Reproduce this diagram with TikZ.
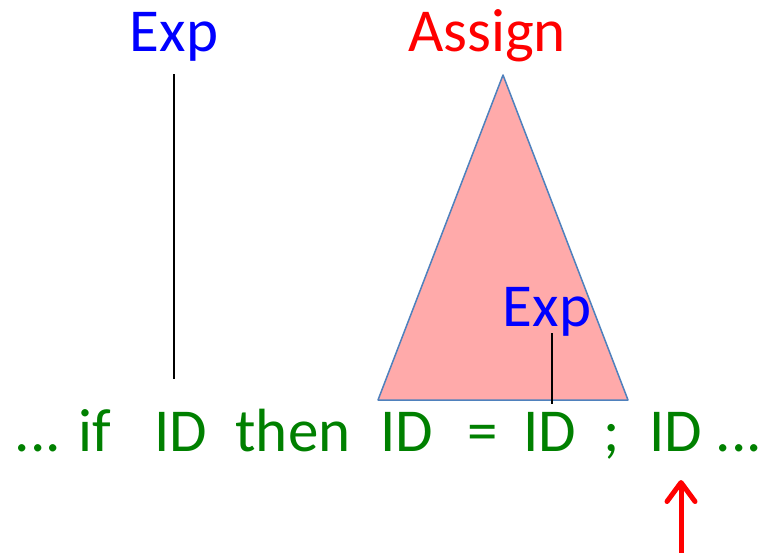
\documentclass[tikz,border=0pt]{standalone}
\usepackage{fontspec}
\setmainfont{Carlito}
\usetikzlibrary{arrows.meta,positioning,calc}
\definecolor{tokgreen}{RGB}{0,128,0}
\definecolor{treefill}{RGB}{255,170,170}
\definecolor{treeline}{RGB}{79,129,189}
\tikzset{
    token/.style={text=tokgreen,anchor=base,inner sep=0pt},
    nonterm/.style={text=blue,anchor=base,inner sep=0pt},
    rootterm/.style={text=red,anchor=base,inner sep=0pt},
    subtree/.style={fill=treefill,draw=treeline,line width=1.5pt,line join=round},
    edge/.style={black,line width=2.5pt},
    cursor/.style={red,line width=5pt,-{Straight Barb[length=19pt,width=28pt,line width=5pt,round]}},
}
\tikzstyle{every node}=[font=\fontsize{61}{64}\selectfont]
\begin{document}
\begin{tikzpicture}[x=1pt,y=-1pt]
        \useasboundingbox (0,0) rectangle (773,553);
        % the subtree that was reduced
        \coordinate (apex) at (503,75);
        \coordinate (bl) at (378,400);
        \coordinate (br) at (628,400);
        \draw[subtree] (apex) -- (br) -- (bl) -- cycle;
        % input tokens
        \node[token] (dots1) at (38,451) {...};
        \node[token] (if) at (95,451) {if};
        \node[token] (id1) at (181,451) {ID};
        \node[token] (then) at (293,451) {then};
        \node[token] (id2) at (407,451) {ID};
        \node[token] (eq) at (483,451) {=};
        \node[token] (id3) at (550,451) {ID};
        \node[token] (semi) at (612,451) {;};
        \node[token] (id4) at (676,451) {ID};
        \node[token] (dots2) at (739,451) {...};
        % nonterminals
        \node[nonterm] (exp1) at (174,52) {Exp};
        \node[rootterm] (assign) at (487,52) {Assign};
        \node[nonterm] (exp2) at (547,326) {Exp};
        \draw[edge,shorten <=12pt,shorten >=33pt] (exp1.south) -- (exp1.south |- id1.north);
        \draw[edge,shorten <=-3pt,shorten >=8pt] ([xshift=5pt]exp2.south) -- ([xshift=5pt]exp2.south |- id3.north);
        % position of the parser
        \coordinate (tail) at (681,553);
        \coordinate (tip) at (681,480);
        \draw[cursor] (tail) -- (tip);
    \end{tikzpicture}
\end{document}
